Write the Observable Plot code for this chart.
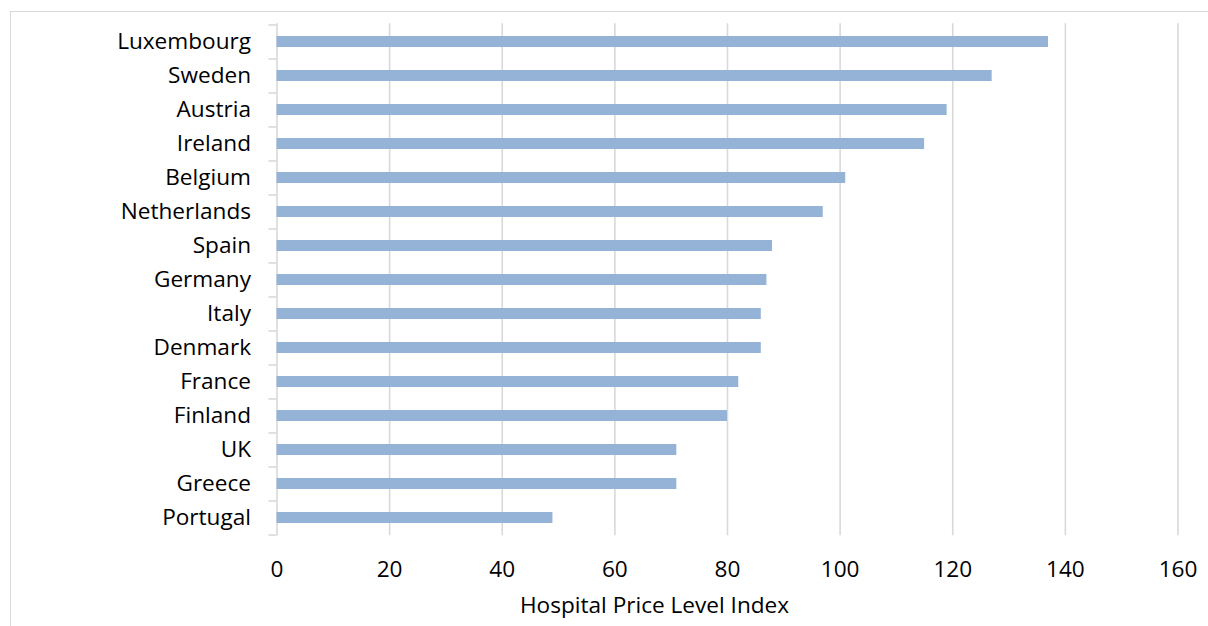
<!DOCTYPE html>
<html>
<head>
<meta charset="utf-8">
<script src="https://cdn.jsdelivr.net/npm/d3@7"></script>
<script src="https://cdn.jsdelivr.net/npm/@observablehq/plot@0.6"></script>
<style>
  html, body { margin: 0; padding: 0; background: #fff; overflow: hidden; }
  #wrap { position: relative; width: 1208px; height: 626px; }
  #frame { position: absolute; left: 10px; top: 11px; width: 1400px; height: 800px;
           border: 1.5px solid #d9d9d9; box-sizing: border-box; }
  #chart { position: absolute; left: 0; top: 0; }
</style>
</head>
<body>
<div id="wrap"><div id="frame"></div><div id="chart"></div></div>
<script>
const countries = ["Luxembourg", "Sweden", "Austria", "Ireland", "Belgium", "Netherlands", "Spain",
  "Germany", "Italy", "Denmark", "France", "Finland", "UK", "Greece", "Portugal"];
const values = [137, 127, 119, 115, 101, 97, 88, 87, 86, 86, 82, 80, 71, 71, 49];
const xTicks = [0, 20, 40, 60, 80, 100, 120, 140, 160];
const xLabel = "Hospital Price Level Index";

const data = countries.map((c, i) => ({country: c, value: values[i]}));

const W = 1208, H = 626;
const mTop = 23.3, mBottom = 90.7, mLeft = 276.5, mRight = 30.5;
const step = (H - mTop - mBottom) / countries.length;
const font = "'Open Sans', sans-serif";
const fs = 22.6;

const chart = Plot.plot({
  width: W,
  height: H,
  marginTop: mTop,
  marginBottom: mBottom,
  marginLeft: mLeft,
  marginRight: mRight,
  style: {fontFamily: font, fontSize: fs + "px", color: "#000", background: "transparent", overflow: "visible"},
  x: {domain: [0, 160], ticks: xTicks},
  y: {domain: countries, paddingInner: 0.663, paddingOuter: 0.3315},
  marks: [
    Plot.gridX(xTicks.filter(d => d > 0), {stroke: "#d9d9d9", strokeOpacity: 1, strokeWidth: 1.6}),
    Plot.ruleX([0], {stroke: "#d9d9d9", strokeWidth: 1.6}),
    Plot.ruleY(countries, {y: d => d, x1: 0, x2: 0, insetLeft: -8, dy: -step / 2, stroke: "#d9d9d9", strokeWidth: 1.6}),
    Plot.ruleY(countries.slice(-1), {y: d => d, x1: 0, x2: 0, insetLeft: -8, dy: step / 2, stroke: "#d9d9d9", strokeWidth: 1.6}),
    Plot.barX(data, {y: "country", x: "value", fill: "#95b3d7"}),
    Plot.axisY({tickSize: 0, tickPadding: 26, label: null, fill: "#000", fontSize: fs, dy: -0.5}),
    Plot.axisX({ticks: xTicks, tickSize: 0, tickPadding: 25.5, label: null, fill: "#000", fontSize: fs}),
    Plot.text([xLabel], {frameAnchor: "bottom", dx: -73, dy: 77.5, fill: "#000", fontSize: fs})
  ]
});
document.getElementById("chart").appendChild(chart);
</script>
</body>
</html>
